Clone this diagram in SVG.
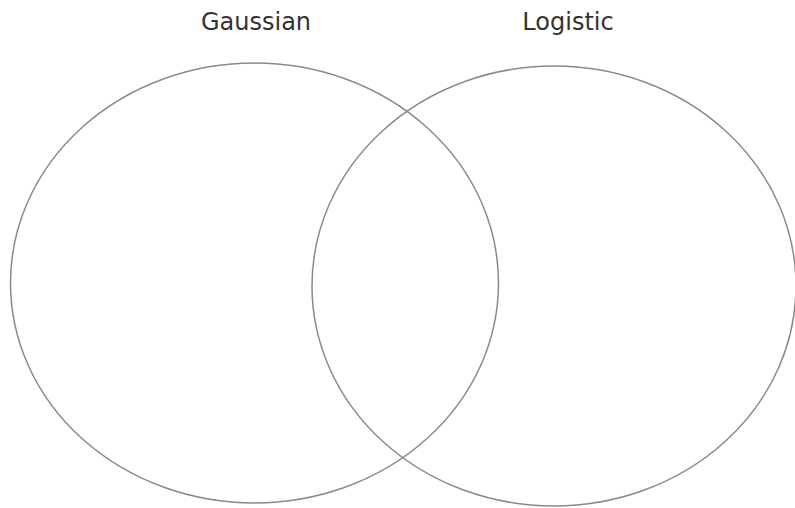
<svg xmlns="http://www.w3.org/2000/svg" width="795" height="508" viewBox="0 0 795 508">
<style>
.set{fill:none;stroke:#8a8a8a;stroke-width:1.5}
.lbl{font-family:"DejaVu Sans","Liberation Sans",sans-serif;font-size:24px;fill:#333;text-anchor:middle}
</style>
<rect width="795" height="508" fill="#fff"/>
<g id="gaussian">
<ellipse class="set" cx="254.5" cy="283" rx="244" ry="220"/>
<text class="lbl" x="256" y="30">Gaussian</text>
</g>
<g id="logistic">
<ellipse class="set" cx="554" cy="286" rx="242" ry="220"/>
<text class="lbl" x="568" y="30">Logistic</text>
</g>
</svg>
